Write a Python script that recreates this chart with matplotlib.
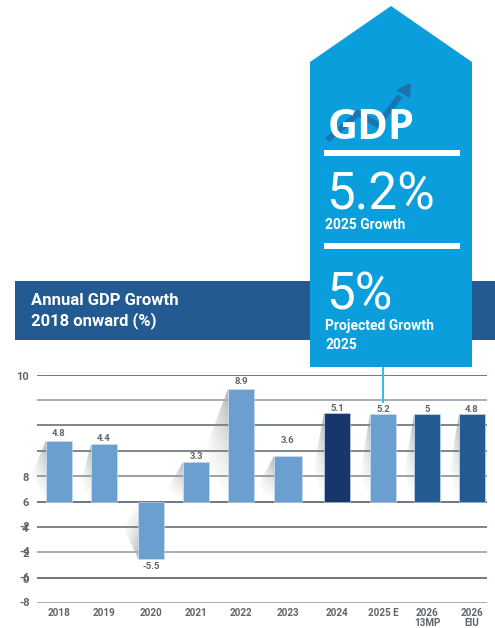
import numpy as np
import matplotlib
matplotlib.use('Agg')
import matplotlib.pyplot as plt
from matplotlib.patches import Polygon, Rectangle

plt.rcParams['font.family'] = ['Roboto', 'DejaVu Sans']

categories = ['2018', '2019', '2020', '2021', '2022', '2023', '2024', '2025 E', '2026\n13MP', '2026\nEIU']
# bars as drawn in the picture, the printed labels do not always agree with them
bar_values = [4.8, 4.5, -4.5, 3.1, 8.9, 3.6, 7.0, 6.9, 6.9, 6.9]
value_labels = ['4.8', '4.4', '-5.5', '3.3', '8.9', '3.6', '5.1', '5.2', '5', '4.8']
grid_values = [10, 8, 6, 4, 2, 0, -2, -4, -6, -8]
first_ticks = ['10', '8', '6', '4', '2', '0']
first_tick_pos = [10, 2, 0, -2, -4, -6]
second_ticks = ['-2', '-4', '-6', '-8']
second_tick_pos = [-2, -4, -6, -8]

# styles and positions
bar_x = [59, 104, 151, 196, 241, 288, 337, 383, 427, 472]
bar_w = [26, 26, 26, 26, 26, 28, 26, 26, 26, 26]
LIGHT, NAVY, MID = '#6a9fcf', '#17366b', '#235a92'
bar_colors = [LIGHT] * 6 + [NAVY, LIGHT, MID, MID]
grid_colors = ['#6f7882', '#a6adb5', '#7d868f', '#7d868f', '#98a0a8', '#6f7882', '#7d868f', '#a6adb5', '#6f7882', '#a6adb5']
shadow_dx = [14, 10, 14, 16, 23, 16, 11, 10, 10, 10]
shadow_dy = [2.6, 3.0, 2.4, 2.1, 4.9, 2.4, 4.7, 4.7, 4.7, 4.7]
label_off = [5, 4, -6, 4, 5, 11, 3, 3, 3, 3]
TEXT = '#5f646a'

fig = plt.figure(figsize=(4.95, 6.28), dpi=100, facecolor='white')
W, H = 495, 628
ax = fig.add_axes([0, (H - 603) / H, 1, (603 - 374.7) / H])
ax.set_xlim(0, W)
ax.set_ylim(-8, 10)
for s in ax.spines.values():
    s.set_visible(False)
ax.patch.set_alpha(0)

ax.hlines(grid_values, 37, 487, colors=grid_colors, lw=1.4, zorder=2.5)

# fading shadow left of each bar
for x, w, v, dx, dy in zip(bar_x, bar_w, bar_values, shadow_dx, shadow_dy):
    left = x - w / 2
    sign = 1 if v > 0 else -1
    u, t = np.meshgrid(np.linspace(0, 1, 40), np.linspace(0, 1, 80))
    img = np.zeros((80, 40, 4))
    img[..., :3] = 0.42
    img[..., 3] = 0.5 * (1 - t) ** 1.3 * u ** 0.8
    im = ax.imshow(img, extent=(left - dx, left, 0, v), origin='upper', aspect='auto', zorder=2,
                   interpolation='bilinear')
    clip = Polygon([(left, v), (left - dx, v - sign * dy), (left, 0)], transform=ax.transData)
    im.set_clip_path(clip)
ax.set_xlim(0, W)
ax.set_ylim(-8, 10)

ax.bar(bar_x, bar_values, width=bar_w, color=bar_colors, edgecolor='#cfe0f0', linewidth=0.4, zorder=3)

for x, v, lab, off in zip(bar_x, bar_values, value_labels, label_off):
    ax.annotate(lab, (x, v), xytext=(0, off), textcoords='offset points', ha='center',
                va='center', fontsize=6.8, color=TEXT, fontweight='bold', zorder=4)

ax.set_xticks(bar_x, categories)
ax.set_yticks([])
ax.tick_params(axis='x', length=0, pad=3.5, labelsize=7.1, labelcolor=TEXT)
for t in ax.get_xticklabels():
    t.set_fontweight('bold')
    t.set_linespacing(1.05)

for pos, lab in zip(first_tick_pos, first_ticks):
    ax.text(28.5, pos - 0.15, lab, ha='right', va='center', fontsize=8, color=TEXT, fontweight='bold')
for pos, lab in zip(second_tick_pos, second_ticks):
    ax.text(29.5, pos, lab, ha='right', va='center', fontsize=8, color=TEXT, fontweight='bold')

# header band and the blue callout, in pixel coordinates
top = fig.add_axes([0, 0, 1, 1], zorder=5)
top.set_xlim(0, W)
top.set_ylim(H, 0)
top.axis('off')

top.add_patch(Rectangle((15, 281), 480, 59, color=MID, lw=0))
top.text(31, 305, 'Annual GDP Growth', color='white', fontsize=12, fontweight='bold', va='baseline')
top.text(31, 325, '2018 onward (%)', color='white', fontsize=12, fontweight='bold', va='baseline')

top.plot([382.5, 382.5], [367, 403], color='#2cc0e8', lw=1.4, solid_capstyle='butt')
top.add_patch(Polygon([(310, 62), (391, 6), (472, 62), (472, 367), (310, 367)], color='#0a9fdc', lw=0))

top.text(328, 139, 'GDP', color='white', fontsize=30, fontweight='bold', family=['Open Sans', 'DejaVu Sans'], va='baseline')
top.plot([327, 345, 358, 378, 400], [140, 125, 113, 125, 96], color='#1f6fae', lw=4.2,
         solid_joinstyle='miter', solid_capstyle='butt', alpha=0.9)
top.add_patch(Polygon([(411, 83), (396, 90), (410, 98)], color='#1f6fae', lw=0))

top.add_patch(Rectangle((324, 150), 136, 5.5, color='white', lw=0))
top.add_patch(Rectangle((324, 243), 136, 6, color='white', lw=0))

top.text(326, 210, '5.2%', color='white', fontsize=37, va='baseline')
top.text(325, 229, '2025 Growth', color='white', fontsize=10, fontweight='bold', va='baseline')
top.text(326, 310, '5%', color='white', fontsize=37, va='baseline')
top.text(325, 330, 'Projected Growth', color='white', fontsize=10, fontweight='bold', va='baseline')
top.text(325, 349, '2025', color='white', fontsize=10, fontweight='bold', va='baseline')

fig.savefig('out.png', dpi=100)
